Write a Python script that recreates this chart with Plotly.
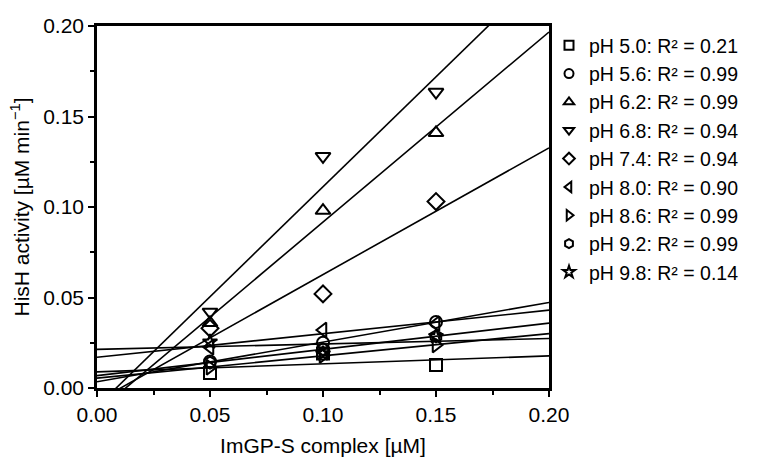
import numpy as np
import plotly.graph_objects as go

conc = [0.05, 0.10, 0.15]
labels = ["pH 5.0: R² = 0.21", "pH 5.6: R² = 0.99", "pH 6.2: R² = 0.99",
          "pH 6.8: R² = 0.94", "pH 7.4: R² = 0.94", "pH 8.0: R² = 0.90",
          "pH 8.6: R² = 0.99", "pH 9.2: R² = 0.99", "pH 9.8: R² = 0.14"]
ph50 = [0.0083, 0.0190, 0.0127]
ph56 = [0.0146, 0.0250, 0.0365]
ph62 = [0.0360, 0.0980, 0.1410]
ph68 = [0.0420, 0.1280, 0.1635]
ph74 = [0.0330, 0.0520, 0.1030]
ph80 = [0.0225, 0.0320, 0.0355]
ph86 = [0.0115, 0.0180, 0.0238]
ph92 = [0.0140, 0.0215, 0.0285]
ph98 = [0.0255, 0.0190, 0.0285]
series = [ph50, ph56, ph62, ph68, ph74, ph80, ph86, ph92, ph98]
symbols = ["square-open", "circle-open", "triangle-up-open", "triangle-down-open", "diamond-open",
           "triangle-left-open", "triangle-right-open", "hexagon-open", "star-open"]
sizes = [12, 12, 13, 13, 13, 13, 13, 12, 11]
ticks = [0.00, 0.05, 0.10, 0.15, 0.20]
tick_text = ["0.00", "0.05", "0.10", "0.15", "0.20"]

FONT = "Liberation Sans, Arial, sans-serif"
fig = go.Figure()
xfit = np.array([0.0, 0.2])
for ys in series:
    m, b = np.polyfit(conc, ys, 1)
    fig.add_trace(go.Scatter(x=xfit, y=m * xfit + b, mode="lines",
                             line=dict(color="black", width=1.6), showlegend=False, hoverinfo="skip"))
for ys, sym, lab, sz in zip(series, symbols, labels, sizes):
    fig.add_trace(go.Scatter(x=conc, y=ys, mode="markers", name=lab, legendgroup=lab, showlegend=False,
                             marker=dict(symbol=sym, size=sz, color="black", line=dict(color="black", width=2)),
                             cliponaxis=False))
    # legend entry with the smaller symbol used in the reference key
    fig.add_trace(go.Scatter(x=[None], y=[None], mode="markers", name=lab, legendgroup=lab,
                             marker=dict(symbol=sym, size=9, color="black", line=dict(color="black", width=2))))

axis_common = dict(showline=True, linecolor="black", linewidth=2.5, mirror=True, ticks="outside",
                   ticklen=6, tickwidth=2, tickcolor="black", showgrid=False, zeroline=False,
                   tickvals=ticks, ticktext=tick_text, automargin=False,
                   tickfont=dict(family=FONT, size=21, color="black"),
                   minor=dict(ticks="outside", ticklen=4, tickwidth=2, tickcolor="black", dtick=0.025,
                              showgrid=False))
fig.update_layout(
    width=766, height=459,
    margin=dict(l=97, r=217, t=26, b=71, autoexpand=False),
    plot_bgcolor="white", paper_bgcolor="white",
    font=dict(family=FONT, size=20, color="black"),
    xaxis=dict(range=[0, 0.2], title=dict(text="ImGP-S complex [µM]", standoff=14,
                                            font=dict(size=21)), **axis_common),
    yaxis=dict(range=[0, 0.2], title=dict(text="HisH activity [µM min<sup>−1</sup>]", standoff=8,
                                            font=dict(size=21)), **axis_common),
    legend=dict(x=1.0, y=1.0, xanchor="left", yanchor="top", font=dict(size=19.5),
                bgcolor="rgba(0,0,0,0)", tracegroupgap=0, itemwidth=30),
)
fig.write_html("out.html", post_script="document.body.style.margin='0';",
               config={"displayModeBar": False})
